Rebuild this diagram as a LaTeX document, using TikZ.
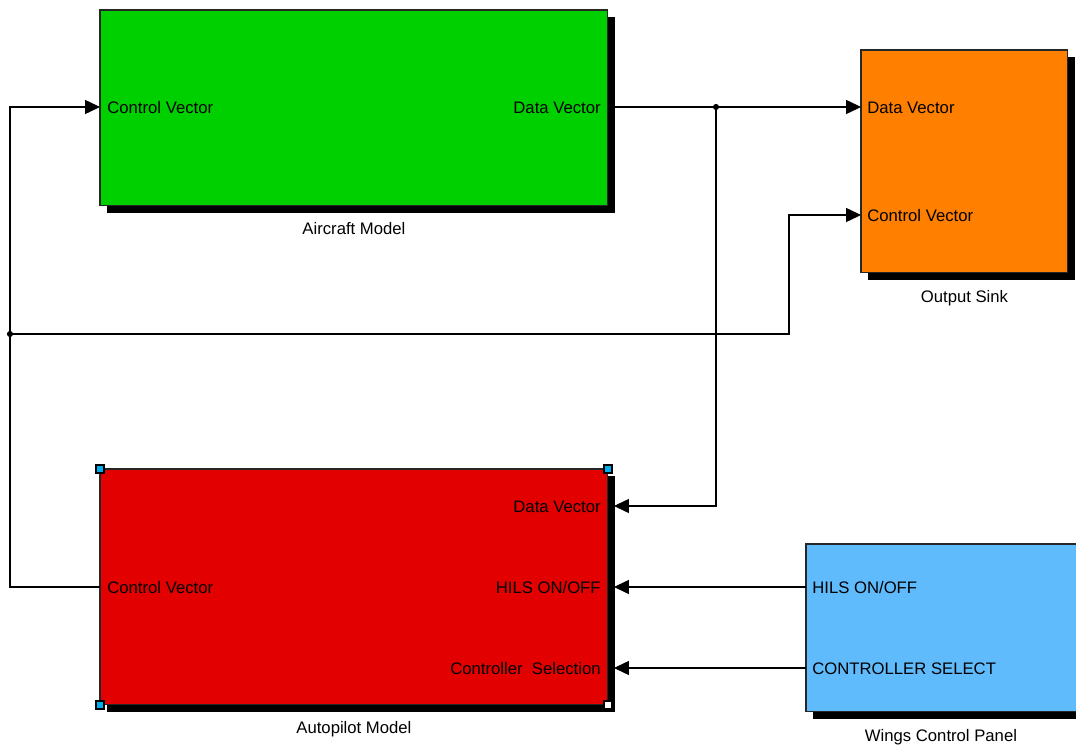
\documentclass[tikz,border=0pt]{standalone}
\usepackage{fontspec}
\setmainfont{Liberation Sans}
\definecolor{acgreen}{RGB}{0, 208, 0}
\definecolor{osorange}{RGB}{255, 128, 0}
\definecolor{apred}{RGB}{226, 0, 0}
\definecolor{wcblue}{RGB}{96, 187, 252}
\usetikzlibrary{arrows.meta, positioning, shadows}

\begin{document}
\begin{tikzpicture}[
			x=0.02cm, y=-0.02cm,
			node distance=0.3cm,
			block/.style={rectangle, draw=black!85, line width=0.6pt, inner sep=0pt, outer sep=0pt,
				anchor=north west, drop shadow={shadow xshift=0.14cm, shadow yshift=-0.14cm, opacity=1, fill=black}},
			port/.style={inner sep=0pt, font=\fontsize{9.5}{11}\selectfont, text height=7pt, text depth=1pt},
			caption/.style={port},
			handle/.style={rectangle, draw=black, line width=1.1pt, minimum size=0.15cm, inner sep=0pt, fill=cyan},
			wire/.style={-{Triangle[length=8.5pt, width=8pt]}, line width=0.6pt, color=black},
			dot/.style={circle, fill=black, inner sep=0pt, minimum size=3.5pt}
			]
			\clip (0,0) rectangle (1076,746);
			\fill[white] (0,0) rectangle (1076,746);

			% blocks
			\node[block, fill=acgreen, minimum width=10.16cm, minimum height=3.92cm] (aircraft) at (100,10) {};
			\node[block, fill=osorange, minimum width=4.14cm, minimum height=4.46cm] (sink) at (861,50) {};
			\node[block, fill=apred, minimum width=10.16cm, minimum height=4.72cm] (autopilot) at (100,469) {};
			\node[block, fill=wcblue, minimum width=5.8cm, minimum height=3.36cm] (panel) at (806,544) {};

			\node[caption, below=0.32cm of aircraft] (aircraftlbl) {Aircraft Model};
			\node[caption, below=0.34cm of sink] (sinklbl) {Output Sink};
			\node[caption, below=0.32cm of autopilot] (autopilotlbl) {Autopilot Model};
			\node[caption, below=0.34cm of panel, xshift=-0.2cm] (panellbl) {Wings Control Panel};

			% selection handles
			\node[handle] (hnw) at (autopilot.north west) {};
			\node[handle] (hne) at (autopilot.north east) {};
			\node[handle] (hsw) at (autopilot.south west) {};
			\node[handle, fill=white] (hse) at (autopilot.south east) {};

			% port labels
			\node[port, anchor=west] (acinlbl) at (107,108) {Control Vector};
			\node[port, anchor=east] (acoutlbl) at (601,108) {Data Vector};
			\node[port, anchor=west] (osdatalbl) at (867,108) {Data Vector};
			\node[port, anchor=west] (osctrllbl) at (867,216) {Control Vector};
			\node[port, anchor=east] (apdatalbl) at (601,507) {Data Vector};
			\node[port, anchor=east] (aphilslbl) at (601,588) {HILS ON/OFF};
			\node[port, anchor=east] (apsellbl) at (601,669) {Controller\ \ Selection};
			\node[port, anchor=west] (apoutlbl) at (107,588) {Control Vector};
			\node[port, anchor=west] (wchilslbl) at (812,588) {HILS ON/OFF};
			\node[port, anchor=west] (wcsellbl) at (812,669) {CONTROLLER SELECT};

			% ports and bends
			\coordinate (acin) at (100,107);
			\coordinate (acout) at (608,107);
			\coordinate (osdata) at (861,107);
			\coordinate (osctrl) at (861,215);
			\coordinate (apdata) at (614,506);
			\coordinate (aphils) at (614,587);
			\coordinate (apsel) at (614,668);
			\coordinate (apout) at (100,587);
			\coordinate (wchils) at (806,587);
			\coordinate (wcsel) at (806,668);
			\coordinate (leftbus) at (10,587);
			\coordinate (bend) at (789,334);
			\node[dot] (split1) at (716,107) {};
			\node[dot] (split2) at (10,334) {};

			\draw[wire] (acout) -- (osdata);
			\draw[wire] (split1.center) |- (apdata);
			\draw[wire] (apout) -- (leftbus) |- (acin);
			\draw[wire] (split2.center) -- (bend) |- (osctrl);
			\draw[wire] (wchils) -- (aphils);
			\draw[wire] (wcsel) -- (apsel);
		\end{tikzpicture}
\end{document}
